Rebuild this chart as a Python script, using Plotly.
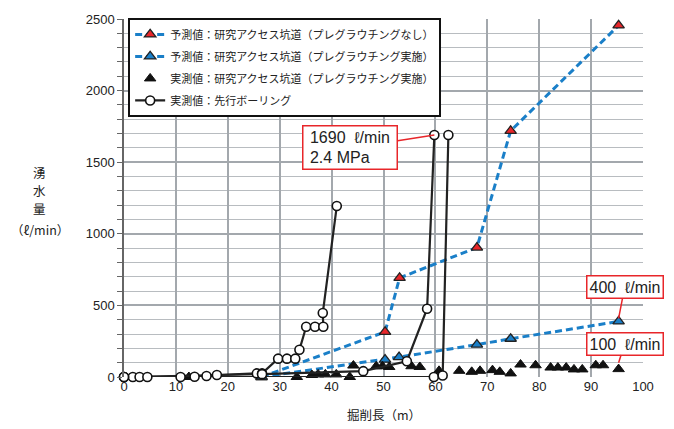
import plotly.graph_objects as go

# Predicted: no pre-grouting (red triangles)
pred_no_x = [26.5, 50.3, 53.1, 68.0, 74.5, 95.3]
pred_no_y = [0, 315, 692, 904, 1719, 2455]

# Predicted: pre-grouting implemented (blue triangles)
pred_pg_x = [26.5, 50.3, 53.0, 68.0, 74.5, 95.3]
pred_pg_y = [0, 121, 139, 226, 267, 388]

# Measured: research access tunnel (black triangles)
meas_x = [12.5, 33.3, 36.2, 37.4, 38.8, 40.9, 43.5, 44.2, 48.6, 49.8, 51.1, 55.4, 57.0,
          60.7, 64.6, 67.0, 68.6, 71.0, 72.4, 74.5, 76.4, 79.3, 82.2, 83.6, 85.2, 86.7,
          88.3, 90.9, 92.3, 95.3]
meas_y = [0, 0, 14, 18, 18, 18, 0, 80, 75, 75, 70, 75, 70,
          43, 43, 36, 43, 48, 36, 25, 87, 82, 66, 66, 66, 53,
          53, 82, 82, 55]

# Measured: pilot borings (circles), three borings separated by None
bor_x = [0, 1.7, 3.0, 4.5, 10.9, 13.6, 15.9, 17.9, 25.6, 26.6, 29.7, 31.4, 33.0, 33.8,
         35.1, 36.8, 38.4, 38.3, 41.0, None,
         0, 26.6, 46.1, 54.5, 58.4, 59.8, None,
         0, 59.7, 61.4, 62.5]
bor_y = [0, 0, 0, 0, 0, 2, 7, 14, 25, 25, 128, 128, 128, 190,
         351, 351, 351, 447, 1194, None,
         0, 20, 41, 110, 477, 1690, None,
         0, 0, 10, 1690]

x_ticks = [0, 10, 20, 30, 40, 50, 60, 70, 80, 90, 100]
y_ticks = [0, 500, 1000, 1500, 2000, 2500]

JP = "Noto Sans CJK JP, Liberation Sans, sans-serif"
NUM = "Liberation Sans, Arial, Noto Sans CJK JP, sans-serif"
BLUE = "#1a7fc8"
DASH = "7px,4px"
SP = "\u00a0"

fig = go.Figure()
fig.add_trace(go.Scatter(
    x=pred_no_x, y=pred_no_y, mode="lines+markers", cliponaxis=False,
    name="予測値：研究アクセス坑道（プレグラウチングなし）", legendgroup="a",
    line=dict(color=BLUE, width=3, dash=DASH),
    marker=dict(symbol="triangle-up", size=10, color="#e8262a",
                line=dict(color="#222", width=1.3))))
fig.add_trace(go.Scatter(
    x=pred_pg_x, y=pred_pg_y, mode="lines+markers", cliponaxis=False,
    name="予測値：研究アクセス坑道（プレグラウチング実施）", legendgroup="b",
    line=dict(color=BLUE, width=3, dash=DASH),
    marker=dict(symbol="triangle-up", size=10, color="#1a7fc8",
                line=dict(color="#222", width=1.3))))
fig.add_trace(go.Scatter(
    x=meas_x, y=meas_y, mode="markers", cliponaxis=False,
    name="実測値：研究アクセス坑道（プレグラウチング実施）", legendgroup="c",
    marker=dict(symbol="triangle-up", size=10, color="#111",
                line=dict(color="#111", width=1))))
fig.add_trace(go.Scatter(
    x=bor_x, y=bor_y, mode="lines+markers", cliponaxis=False,
    name="実測値：先行ボーリング", connectgaps=False, legendgroup="d",
    line=dict(color="#222", width=2.2),
    marker=dict(symbol="circle", size=9, color="white",
                line=dict(color="#111", width=1.6))))

callout = dict(showarrow=True, arrowhead=0, arrowwidth=1.5, arrowcolor="#e8262a",
               bordercolor="#e8262a", borderwidth=1.5, bgcolor="white",
               font=dict(family=NUM, size=16, color="#222"), align="left",
               xref="x", yref="y")
annots = [
    dict(x=59.8, y=1690, ax=-84, ay=13,
         text=SP + "1690" + SP * 2 + "ℓ/min" + SP + "<br>" + SP + "2.4" + SP + "MPa",
         borderpad=2, **callout),
    dict(x=95.3, y=410, ax=6, ay=-31, text="400" + SP * 2 + "ℓ/min", borderpad=2, **callout),
    dict(x=95.3, y=100, ax=6, ay=-19, text="100" + SP * 2 + "ℓ/min", borderpad=2, **callout),
]
ytitle = [("湧", 0.570), ("水", 0.521), ("量", 0.472), ("（ℓ/min）", 0.413)]
for t, yy in ytitle:
    annots.append(dict(xref="paper", yref="paper", x=-0.162, y=yy, showarrow=False,
                       text=t, font=dict(family=JP, size=12.5, color="#222"),
                       xanchor="center", yanchor="middle"))
annots.append(dict(xref="paper", yref="paper", x=0.5, y=-0.104, showarrow=False,
                   text="掘削長（m）", font=dict(family=JP, size=12.5, color="#222"),
                   xanchor="center", yanchor="middle"))

fig.update_layout(
    width=674, height=429,
    margin=dict(l=124, r=31, t=12, b=52),
    paper_bgcolor="white", plot_bgcolor="white",
    showlegend=True,
    legend=dict(x=0.008, y=1.003, xanchor="left", yanchor="top",
                bgcolor="white", bordercolor="#111", borderwidth=2,
                font=dict(family=JP, size=11, color="#222"),
                tracegroupgap=3, itemwidth=30),
    annotations=annots,
    xaxis=dict(range=[0, 100], tickvals=x_ticks, showgrid=True,
               gridcolor="#a3a8ad", gridwidth=1.5, zeroline=False,
               showline=False, ticks="",
               tickfont=dict(family=NUM, size=13, color="#222")),
    yaxis=dict(range=[0, 2500], tickvals=y_ticks, showgrid=True,
               gridcolor="#a3a8ad", gridwidth=1.5, zeroline=False,
               showline=True, linecolor="#666", linewidth=1.5,
               ticks="outside", ticklen=5, tickcolor="#666",
               tickfont=dict(family=NUM, size=13, color="#222"),
               minor=dict(dtick=100, showgrid=True, gridcolor="#b8bcc0",
                          gridwidth=1, ticks="outside", ticklen=5, tickcolor="#666")),
)

fig.write_html("out.html", config={"displayModeBar": False},
               post_script="document.body.style.margin='0';document.body.style.padding='0';")
